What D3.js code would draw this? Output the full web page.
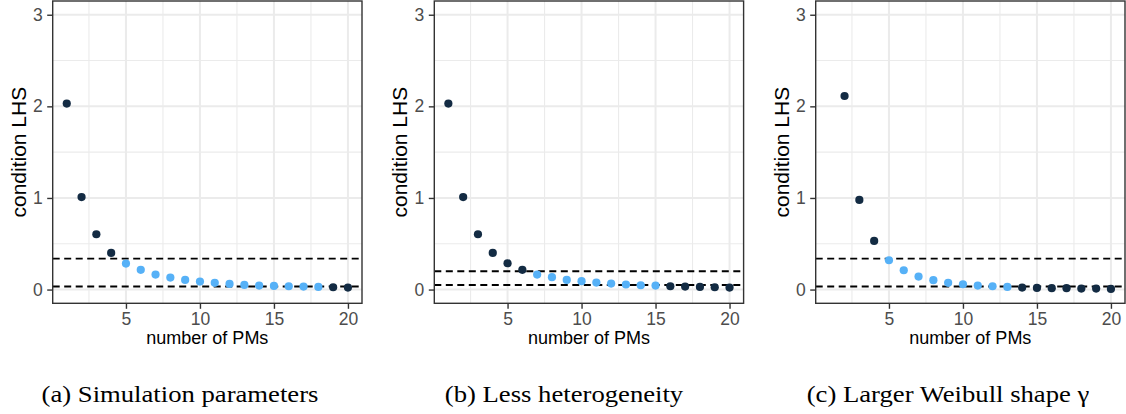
<!DOCTYPE html>
<html>
<head>
<meta charset="utf-8">
<script src="https://cdn.jsdelivr.net/npm/d3@7"></script>
<style>
  body { margin: 0; background: #fff; }
  svg { display: block; }
</style>
</head>
<body>
<svg id="chart" width="1126" height="414"></svg>
<script>
// number of PMs on the x axis, one value per panel
const pms = d3.range(1, 21);

// condition LHS (null = not drawn)
const lhsSim = [2.03, 1.01, 0.604, 0.40, 0.284, 0.215, 0.164, 0.131, 0.105, 0.087,
                0.073, 0.062, 0.051, 0.044, 0.040, 0.036, 0.033, 0.029, 0.025, 0.022];
const lhsLessHet = [2.03, 1.01, 0.604, 0.40, 0.287, 0.215, 0.164, 0.135, 0.105, 0.091,
                    0.076, 0.065, 0.055, 0.047, 0.044, 0.036, 0.033, 0.029, 0.025, 0.022];
const lhsWeibull = [null, 2.113, 0.978, 0.531, 0.32, 0.211, 0.142, 0.102, 0.073, 0.058,
                    0.044, 0.036, 0.029, 0.022, 0.018, 0.015, 0.015, 0.011, 0.011, 0.007];

// 1 = point lies inside the band (light), 0 = outside (dark)
const inSim      = [0,0,0,0,1,1,1,1,1,1,1,1,1,1,1,1,1,1,0,0];
const inLessHet  = [0,0,0,0,0,0,1,1,1,1,1,1,1,1,1,0,0,0,0,0];
const inWeibull  = [0,0,0,0,1,1,1,1,1,1,1,1,1,0,0,0,0,0,0,0];

// dashed reference lines [lower, upper]
const bandSim = [0.034, 0.338];
const bandLessHet = [0.05, 0.2];
const bandWeibull = [0.034, 0.338];

const captions = ["(a) Simulation parameters", "(b) Less heterogeneity", "(c) Larger Weibull shape \u03b3"];

const xMajor = [5, 10, 15, 20];
const xMinor = [2.5, 7.5, 12.5, 17.5];
const yMajor = [0, 1, 2, 3];
const yMinor = [0.5, 1.5, 2.5];

const panels = [
  { values: lhsSim, inside: inSim, band: bandSim, left: 52.7 },
  { values: lhsLessHet, inside: inLessHet, band: bandLessHet, left: 434.3 },
  { values: lhsWeibull, inside: inWeibull, band: bandWeibull, left: 815.7 }
];
const captionX = [180, 564, 948];

const plotW = 309.3;
const plotTop = 1, plotBottom = 303.3;
const colDark = "#132B43", colLight = "#56B1F7";
const sans = "'Liberation Sans', Arial, Helvetica, sans-serif";

const svg = d3.select("#chart");

const x = d3.scaleLinear().domain([0.05, 20.95]).range([0, plotW]);
const y = d3.scaleLinear().domain([-0.15, 3.15]).range([plotBottom, plotTop]);

panels.forEach((p, i) => {
  const g = svg.append("g").attr("transform", `translate(${p.left},0)`);

  // grid minor
  g.selectAll(".xminor").data(xMinor).enter().append("line")
    .attr("x1", d => x(d)).attr("x2", d => x(d))
    .attr("y1", plotTop).attr("y2", plotBottom)
    .attr("stroke", "#EBEBEB").attr("stroke-width", 1.1);
  g.selectAll(".yminor").data(yMinor).enter().append("line")
    .attr("x1", 0).attr("x2", plotW)
    .attr("y1", d => y(d)).attr("y2", d => y(d))
    .attr("stroke", "#EBEBEB").attr("stroke-width", 1.1);

  // grid major
  g.selectAll(".xmajor").data(xMajor).enter().append("line")
    .attr("x1", d => x(d)).attr("x2", d => x(d))
    .attr("y1", plotTop).attr("y2", plotBottom)
    .attr("stroke", "#EBEBEB").attr("stroke-width", 2);
  g.selectAll(".ymajor").data(yMajor).enter().append("line")
    .attr("x1", 0).attr("x2", plotW)
    .attr("y1", d => y(d)).attr("y2", d => y(d))
    .attr("stroke", "#EBEBEB").attr("stroke-width", 2);

  // dashed band
  g.selectAll(".band").data(p.band).enter().append("line")
    .attr("x1", 0).attr("x2", plotW)
    .attr("y1", d => y(d)).attr("y2", d => y(d))
    .attr("stroke", "#000").attr("stroke-width", 1.9)
    .attr("stroke-dasharray", "7,4.5");

  // points
  const pts = pms.map((n, k) => ({ n, v: p.values[k], inside: p.inside[k] }))
    .filter(d => d.v !== null);
  g.selectAll(".pt").data(pts).enter().append("circle")
    .attr("cx", d => x(d.n))
    .attr("cy", d => y(d.v))
    .attr("r", 4.1)
    .attr("fill", d => d.inside ? colLight : colDark);

  // border
  g.append("rect")
    .attr("x", 0).attr("y", plotTop)
    .attr("width", plotW).attr("height", plotBottom - plotTop)
    .attr("fill", "none").attr("stroke", "#333").attr("stroke-width", 1.4);

  // axes
  const ax = g.append("g").attr("transform", `translate(0,${plotBottom})`)
    .call(d3.axisBottom(x).tickValues(xMajor).tickFormat(d3.format("d"))
      .tickSize(5.5).tickPadding(4));
  const ay = g.append("g")
    .call(d3.axisLeft(y).tickValues(yMajor).tickFormat(d3.format("d"))
      .tickSize(5.5).tickPadding(4.5));
  [ax, ay].forEach(a => {
    a.select(".domain").remove();
    a.selectAll(".tick line").attr("stroke", "#333").attr("stroke-width", 1.4);
    a.selectAll(".tick text").attr("fill", "#4D4D4D")
      .style("font-family", sans).style("font-size", "17.5px");
  });

  // axis titles
  g.append("text")
    .attr("x", plotW / 2).attr("y", 344)
    .attr("text-anchor", "middle")
    .style("font-family", sans).style("font-size", "18px")
    .text("number of PMs");
  g.append("text")
    .attr("transform", `translate(-34.5,${(plotTop + plotBottom) / 2}) rotate(-90)`)
    .attr("dy", "0.35em")
    .attr("text-anchor", "middle")
    .style("font-family", sans).style("font-size", "21px")
    .text("condition LHS");

  // caption (serif, a bit wider than Times)
  svg.append("text")
    .attr("transform", `translate(${captionX[i]},402) scale(1.16,1)`)
    .attr("text-anchor", "middle")
    .style("font-family", "'Liberation Serif', 'Times New Roman', serif")
    .style("font-size", "23px")
    .text(captions[i]);
});
</script>
</body>
</html>
